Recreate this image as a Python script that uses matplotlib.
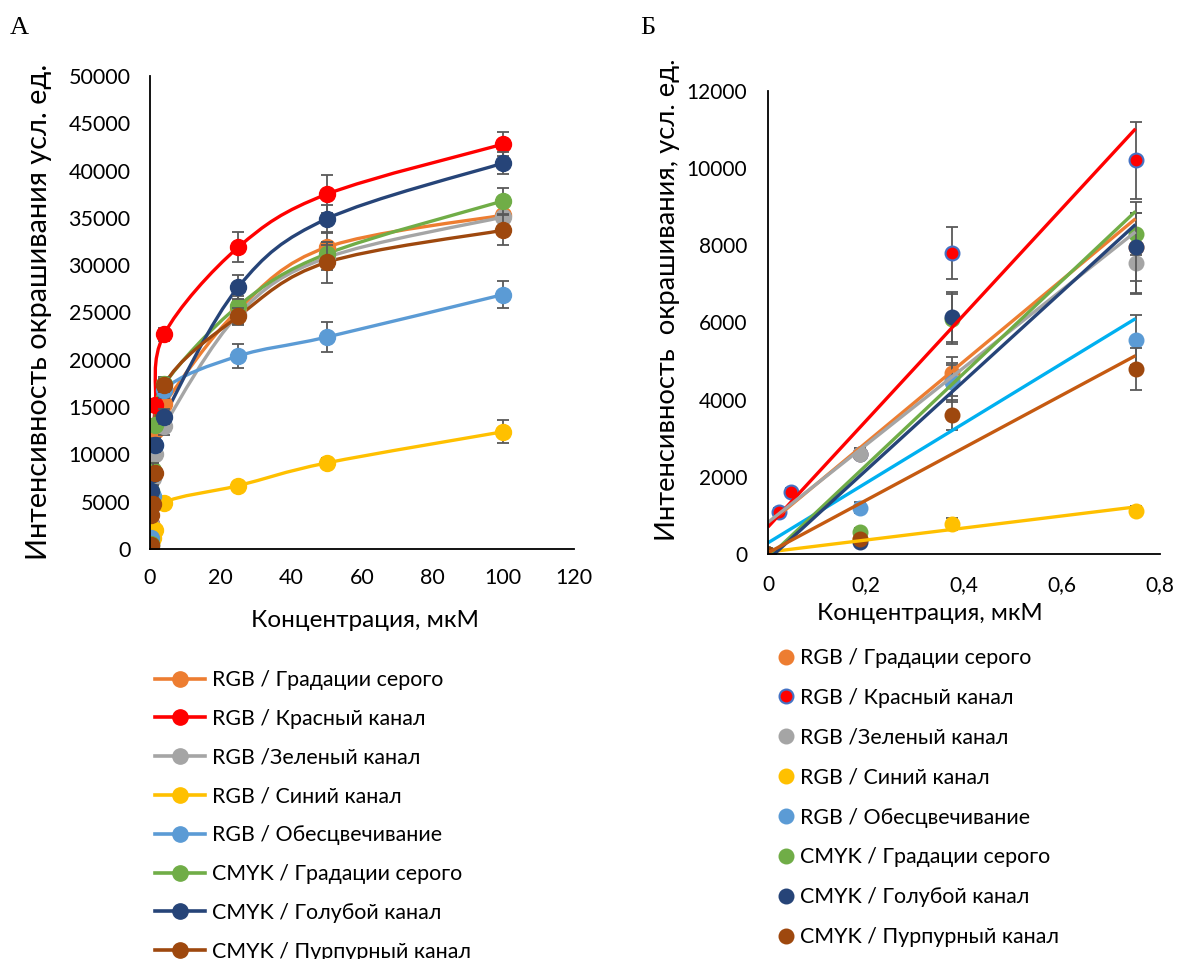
import numpy as np
import matplotlib
matplotlib.use('Agg')
import matplotlib.pyplot as plt
from matplotlib.path import Path
from matplotlib.patches import PathPatch
from matplotlib.lines import Line2D

plt.rcParams['font.family'] = ['Lato', 'Noto Sans', 'DejaVu Sans']

# Данные: концентрации, мкМ
conc = [0, 0.023, 0.047, 0.1875, 0.375, 0.75, 1.5, 4, 25, 50, 100]

names = ['RGB / Градации серого', 'RGB / Красный канал', 'RGB /Зеленый канал',
         'RGB / Синий канал', 'RGB / Обесцвечивание', 'CMYK / Градации серого',
         'CMYK / Голубой канал', 'CMYK / Пурпурный канал']
colors = ['#ED7D31', '#FF0000', '#A5A5A5', '#FFC000', '#5B9BD5', '#70AD47', '#264478', '#9E480E']
trend_colors = ['#ED7D31', '#FF0000', '#A5A5A5', '#FFC000', '#00B0F0', '#70AD47', '#264478', '#C55A11']

nan = np.nan
orange = [0, nan, nan, 2600, 4700, 7950, 12500, 15300, 25300, 31900, 35300]
red = [0, 1100, 1600, 2600, 7800, 10200, 15200, 22700, 31900, 37500, 42800]
gray = [0, nan, nan, 2600, 4500, 7550, 10000, 13000, 24800, 30800, 35100]
yellow = [0, nan, nan, 380, 780, 1120, 2000, 4900, 6700, 9100, 12400]
lblue = [0, nan, nan, 1200, 4450, 5550, 11000, 16800, 20400, 22400, 26900]
green = [0, nan, nan, 580, 6100, 8300, 13100, 17400, 25700, 31200, 36800]
navy = [0, nan, nan, 300, 6150, 7950, 11000, 14000, 27700, 34900, 40800]
brown = [0, nan, nan, 380, 3600, 4800, 8000, 17300, 24600, 30300, 33700]

orange_err = [0, 0, 0, 150, 400, 880, 600, 800, 1000, 1600, 1200]
red_err = [0, 80, 100, 150, 680, 1000, 700, 700, 1600, 2000, 1300]
gray_err = [0, 0, 0, 150, 400, 800, 600, 900, 1000, 1300, 1200]
yellow_err = [0, 0, 0, 50, 150, 120, 200, 300, 400, 500, 1200]
lblue_err = [0, 0, 0, 150, 500, 650, 600, 800, 1300, 1600, 1400]
green_err = [0, 0, 0, 100, 650, 550, 600, 800, 1000, 1200, 1400]
navy_err = [0, 0, 0, 80, 650, 1180, 700, 800, 1300, 1500, 1200]
brown_err = [0, 0, 0, 80, 380, 550, 500, 700, 900, 2200, 1600]

series = [orange, red, gray, yellow, lblue, green, navy, brown]
errors = [orange_err, red_err, gray_err, yellow_err, lblue_err, green_err, navy_err, brown_err]

# Линейные тренды (панель Б): значение при 0 и при 0,75 мкМ
trend_start = [770, 700, 820, 50, 290, -100, -150, 30]
trend_end = [8690, 11020, 8350, 1220, 6100, 8880, 8540, 5140]
trend_x = [0, 0.75]

n_low = 6  # первые 6 концентраций на панели Б

fig = plt.figure(figsize=(11.81, 9.59), dpi=100)
axA = fig.add_axes([150 / 1181, 1 - 549 / 959, 424 / 1181, 473 / 959])
axB = fig.add_axes([768 / 1181, 1 - 554 / 959, 392 / 1181, 463 / 959])

err_col = '#595959'


def smooth_line(ax, xs, ys, color, wpx, hpx):
    # сглаженная линия как в Excel (Catmull-Rom -> Безье)
    x0, x1 = ax.get_xlim()
    y0, y1 = ax.get_ylim()
    P = np.column_stack([(np.array(xs) - x0) / (x1 - x0) * wpx,
                         (np.array(ys) - y0) / (y1 - y0) * hpx])
    n = len(P)
    verts = [P[0]]
    codes = [Path.MOVETO]
    for i in range(n - 1):
        p0 = P[i - 1] if i > 0 else P[i]
        p3 = P[i + 2] if i + 2 < n else P[i + 1]
        c1 = P[i] + (P[i + 1] - p0) / 6
        c2 = P[i + 1] - (p3 - P[i]) / 6
        verts += [c1, c2, P[i + 1]]
        codes += [Path.CURVE4] * 3
    V = np.array(verts)
    V[:, 0] = V[:, 0] / wpx * (x1 - x0) + x0
    V[:, 1] = V[:, 1] / hpx * (y1 - y0) + y0
    ax.add_patch(PathPatch(Path(V, codes), fill=False, edgecolor=color,
                           lw=2.4, capstyle='round', joinstyle='round'))


# Панель А
axA.set_xlim(0, 120)
axA.set_ylim(0, 50000)
for s, e, c in zip(series, errors, colors):
    x = np.array(conc)
    y = np.array(s, dtype=float)
    er = np.array(e, dtype=float)
    ok = ~np.isnan(y)
    smooth_line(axA, x[ok], y[ok], c, 424, 473)
    axA.errorbar(x[ok], y[ok], yerr=er[ok], fmt='none', ecolor=err_col,
                 elinewidth=1.3, capsize=4.5, capthick=1.3)
    axA.plot(x[ok], y[ok], 'o', color=c, ms=11.5, mec=c)

# Панель Б
axB.set_xlim(0, 0.8)
axB.set_ylim(0, 12000)
for i, (s, e, c) in enumerate(zip(series, errors, colors)):
    x = np.array(conc[:n_low])
    y = np.array(s[:n_low], dtype=float)
    er = np.array(e[:n_low], dtype=float)
    ok = ~np.isnan(y)
    axB.errorbar(x[ok], y[ok], yerr=er[ok], fmt='none', ecolor=err_col,
                 elinewidth=1.3, capsize=4.5, capthick=1.3)
    mec = '#4472C4' if i == 1 else c
    axB.plot(x[ok], y[ok], 'o', color=c, ms=10, mec=mec, mew=1.5)
for ts, te, c in zip(trend_start, trend_end, trend_colors):
    axB.plot(trend_x, [ts, te], color=c, lw=2.4, solid_capstyle='butt')

for ax in (axA, axB):
    for sp in ('top', 'right'):
        ax.spines[sp].set_visible(False)
    for sp in ('left', 'bottom'):
        ax.spines[sp].set_linewidth(1.3)
        ax.spines[sp].set_color('black')
    ax.tick_params(length=0, labelsize=15.5, pad=14, colors='black')
    ax.patch.set_alpha(0)

axA.set_xticks(range(0, 121, 20))
axA.set_yticks(range(0, 50001, 5000))
axB.set_xticks([0, 0.2, 0.4, 0.6, 0.8])
axB.set_xticklabels(['0', '0,2', '0,4', '0,6', '0,8'])
axB.set_yticks(range(0, 12001, 2000))
axB.tick_params(pad=15, labelsize=15)

axA.set_xlabel('Концентрация, мкМ', fontsize=17.5)
axA.xaxis.set_label_coords(0.507, -0.129)
axA.set_ylabel('Интенсивность окрашивания усл. ед.', fontsize=20.8)
axA.yaxis.set_label_coords(-0.231, 0.501)
axB.set_xlabel('Концентрация, мкМ', fontsize=17.3)
axB.xaxis.set_label_coords(0.413, -0.106)
axB.set_ylabel('Интенсивность  окрашивания, усл. ед.', fontsize=19.7)
axB.yaxis.set_label_coords(-0.224, 0.549)

fig.text(10 / 1181, 1 - 28 / 959, 'А', fontsize=19, family='Liberation Serif', va='center')
fig.text(640 / 1181, 1 - 28 / 959, 'Б', fontsize=19, family='Liberation Serif', va='center')

# Легенды
hA = [Line2D([], [], color=c, lw=2.6, marker='o', ms=11, mec=c) for c in colors]
fig.legend(hA, names, loc='upper left', bbox_to_anchor=(155 / 1181, 1 - 670 / 959),
           frameon=False, fontsize=15.4, handlelength=2.35, handletextpad=0.33,
           labelspacing=0.88, borderpad=0, borderaxespad=0)
hB = [Line2D([], [], ls='none', marker='o', ms=10, color=c,
             mec='#4472C4' if i == 1 else c, mew=1.5) for i, c in enumerate(colors)]
fig.legend(hB, names, loc='upper left', bbox_to_anchor=(779 / 1181, 1 - 648 / 959),
           frameon=False, fontsize=15.4, handlelength=0.7, handletextpad=0.3,
           labelspacing=0.93, borderpad=0, borderaxespad=0)

fig.savefig('out.png', dpi=100)
